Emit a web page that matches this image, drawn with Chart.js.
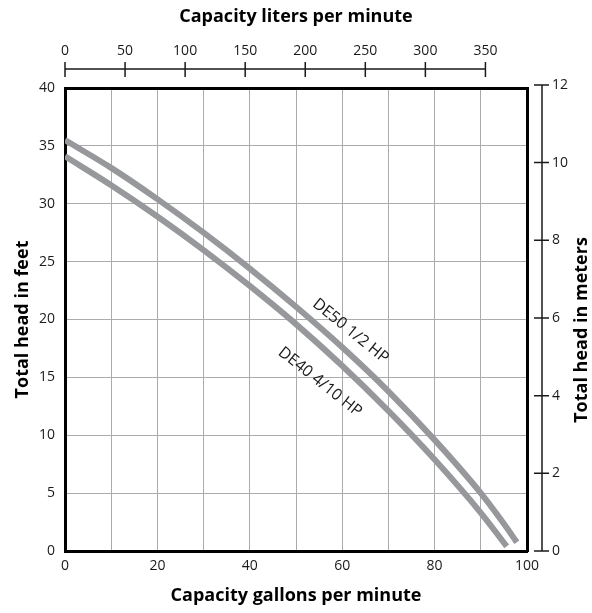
<!DOCTYPE html>
<html>
<head>
<meta charset="utf-8">
<script src="https://cdn.jsdelivr.net/npm/chart.js@4.4.1/dist/chart.umd.min.js"></script>
<style>
  html, body { margin: 0; padding: 0; background: #fff; }
  #wrap { width: 592px; height: 613px; position: relative; }
</style>
</head>
<body>
<div id="wrap"><canvas id="curva"></canvas></div>
<script>
// valores (galones por minuto / pies)
const gpmDE50 = [0, 10, 20, 30, 40, 50, 60, 70, 80, 90, 95, 97.8];
const feetDE50 = [35.5, 33.1, 30.4, 27.5, 24.4, 21.1, 17.6, 13.8, 9.6, 5.0, 2.35, 0.75];
const gpmDE40 = [0, 10, 20, 30, 40, 50, 60, 70, 80, 90, 95.6];
const feetDE40 = [34.1, 31.6, 28.9, 26.0, 22.9, 19.6, 16.0, 12.1, 7.9, 3.3, 0.4];

const seriesNames = ['DE50 1/2 HP', 'DE40 4/10 HP'];
const litersTicks = [0, 50, 100, 150, 200, 250, 300, 350];
const metersTicks = [0, 2, 4, 6, 8, 10, 12];

const lineColor = '#97989b';
const gridColor = '#ababab';
const inkColor = '#1a1a1a';

// donde van las etiquetas de cada curva (en unidades de datos)
const curveLabels = [
  { text: seriesNames[0], x: 61.8, y: 19.0, angle: 39 },
  { text: seriesNames[1], x: 55.2, y: 14.6, angle: 38.5 }
];

function toPoints(xs, ys) {
  return xs.map((x, i) => ({ x, y: ys[i] }));
}

Chart.defaults.font.family = "'Open Sans', sans-serif";
Chart.defaults.color = inkColor;

const titleFont = { family: "'Open Sans', sans-serif", size: 18, weight: 'bold' };

// ejes desplazados (litros arriba, metros a la derecha) y textos extra
const extras = {
  id: 'extras',
  afterDraw(chart) {
    const { ctx, chartArea } = chart;
    const top = chart.scales.xTop;
    const right = chart.scales.yRight;
    const x = chart.scales.x;
    const y = chart.scales.y;
    ctx.save();
    ctx.strokeStyle = inkColor;
    ctx.lineWidth = 1.5;

    const ty = chartArea.top - 19;
    ctx.beginPath();
    ctx.moveTo(top.getPixelForValue(litersTicks[0]), ty);
    ctx.lineTo(top.getPixelForValue(litersTicks[litersTicks.length - 1]), ty);
    top.ticks.forEach(t => {
      const px = top.getPixelForValue(t.value);
      ctx.moveTo(px, ty - 7);
      ctx.lineTo(px, ty + 8);
    });
    ctx.stroke();

    const rx = chartArea.right + 15;
    ctx.beginPath();
    ctx.moveTo(rx, right.getPixelForValue(metersTicks[0]));
    ctx.lineTo(rx, right.getPixelForValue(metersTicks[metersTicks.length - 1]));
    right.ticks.forEach(t => {
      const py = right.getPixelForValue(t.value);
      ctx.moveTo(rx - 8, py);
      ctx.lineTo(rx + 7, py);
    });
    ctx.stroke();

    // título del eje derecho, leído de abajo hacia arriba
    ctx.fillStyle = '#000';
    ctx.font = 'bold 18px "Open Sans", sans-serif';
    ctx.textAlign = 'center';
    ctx.textBaseline = 'middle';
    ctx.translate(582, 330);
    ctx.rotate(-Math.PI / 2);
    ctx.fillText('Total head in meters', 0, 0);
    ctx.restore();

    ctx.save();
    ctx.fillStyle = inkColor;
    ctx.font = '16px "Open Sans", sans-serif';
    ctx.textAlign = 'center';
    ctx.textBaseline = 'middle';
    curveLabels.forEach(l => {
      ctx.save();
      ctx.translate(x.getPixelForValue(l.x), y.getPixelForValue(l.y));
      ctx.rotate(l.angle * Math.PI / 180);
      ctx.fillText(l.text, 0, 0);
      ctx.restore();
    });
    ctx.restore();
  }
};

new Chart(document.getElementById('curva').getContext('2d'), {
  type: 'line',
  data: {
    datasets: [
      {
        label: seriesNames[0],
        data: toPoints(gpmDE50, feetDE50),
        borderColor: lineColor,
        borderWidth: 6,
        borderCapStyle: 'butt',
        cubicInterpolationMode: 'monotone',
        pointRadius: 0,
        fill: false
      },
      {
        label: seriesNames[1],
        data: toPoints(gpmDE40, feetDE40),
        borderColor: lineColor,
        borderWidth: 6,
        borderCapStyle: 'butt',
        cubicInterpolationMode: 'monotone',
        pointRadius: 0,
        fill: false
      }
    ]
  },
  options: {
    responsive: true,
    maintainAspectRatio: false,
    animation: false,
    layout: { padding: 0 },
    plugins: {
      legend: { display: false },
      tooltip: { enabled: false }
    },
    scales: {
      x: {
        type: 'linear',
        position: 'bottom',
        min: 0,
        max: 100,
        afterFit: s => { s.height = 62; },
        grid: { color: gridColor, lineWidth: 1, drawTicks: false },
        border: { display: true, color: '#000', width: 3 },
        ticks: {
          stepSize: 10,
          autoSkip: false,
          maxRotation: 0,
          padding: 7,
          font: { size: 14 },
          callback: v => (v % 20 === 0 ? v : '')
        },
        title: {
          display: true,
          text: 'Capacity gallons per minute',
          color: '#000',
          font: titleFont,
          padding: { top: 0, bottom: 6 }
        }
      },
      xTop: {
        type: 'linear',
        position: 'top',
        min: 0,
        max: 384.6,
        afterFit: s => { s.height = 88; },
        afterBuildTicks: s => { s.ticks = litersTicks.map(v => ({ value: v })); },
        grid: { display: false, drawTicks: false },
        border: { display: true, color: '#000', width: 3 },
        ticks: { autoSkip: false, maxRotation: 0, padding: 29, font: { size: 14 } },
        title: {
          display: true,
          text: 'Capacity liters per minute',
          color: '#000',
          font: titleFont,
          padding: { top: 6, bottom: 0 }
        }
      },
      y: {
        type: 'linear',
        position: 'left',
        min: 0,
        max: 40,
        afterFit: s => { s.width = 65; },
        grid: { color: gridColor, lineWidth: 1, drawTicks: false },
        border: { display: true, color: '#000', width: 3 },
        ticks: { stepSize: 5, padding: 10, font: { size: 14 } },
        title: {
          display: true,
          text: 'Total head in feet',
          color: '#000',
          font: titleFont,
          padding: { top: 12, bottom: 0 }
        }
      },
      yRight: {
        type: 'linear',
        position: 'right',
        min: 0,
        max: 11.92,
        afterFit: s => { s.width = 65; },
        afterBuildTicks: s => { s.ticks = metersTicks.map(v => ({ value: v })); },
        grid: { display: false, drawTicks: false },
        border: { display: true, color: '#000', width: 3 },
        ticks: { autoSkip: false, padding: 25, font: { size: 14 } }
      }
    }
  },
  plugins: [extras]
});
</script>
</body>
</html>
